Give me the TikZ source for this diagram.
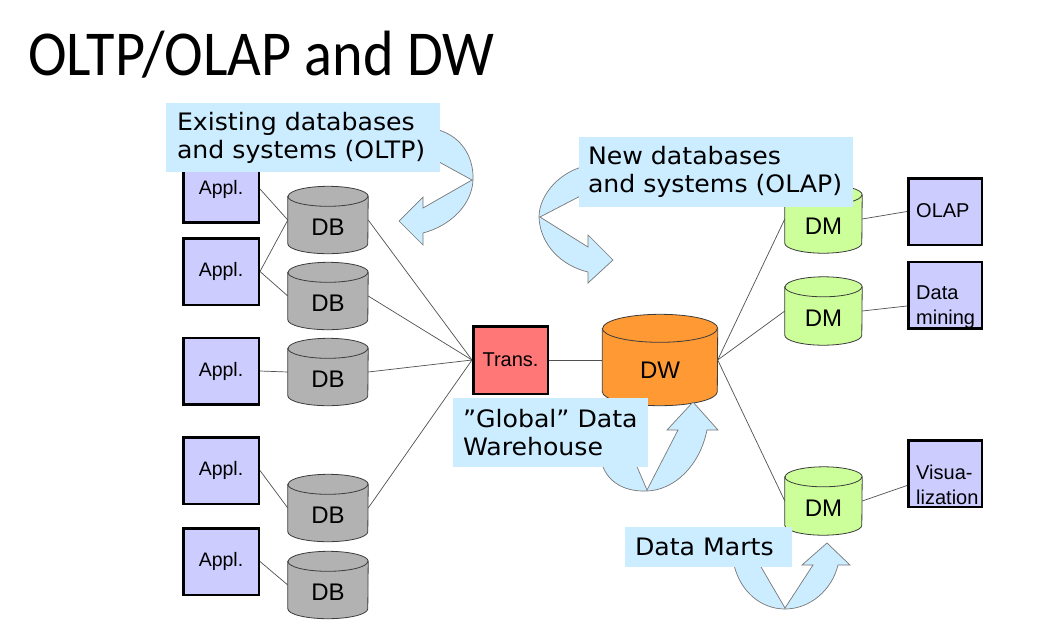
\documentclass[tikz,border=0pt]{standalone}
\usepackage{fontspec}
\setmainfont{Liberation Sans}
\newfontfamily\titlefont[FakeStretch=0.91]{Carlito}
\newfontfamily\callfont[FakeStretch=1.05]{DejaVu Sans}
\usetikzlibrary{calc}
\definecolor{applfill}{RGB}{204,204,255}
\definecolor{dbfill}{RGB}{178,178,178}
\definecolor{dmfill}{RGB}{204,255,153}
\definecolor{dwfill}{RGB}{255,153,51}
\definecolor{transfill}{RGB}{255,119,119}
\definecolor{callfill}{RGB}{204,236,255}
\definecolor{arrowline}{RGB}{120,120,120}
\definecolor{cylline}{RGB}{60,60,60}
\definecolor{connline}{RGB}{80,80,80}
\newcommand\mycyl[8]{%
  \node[minimum width=#4pt, minimum height=#5pt, inner sep=0pt] (#1) at (#2,#3) {};
  \path[fill=#7, draw=cylline, line width=0.8pt]
    ([yshift=-#6pt]#1.north west) -- ([yshift=#6pt]#1.south west)
    arc[start angle=180, end angle=360, x radius=#4pt/2, y radius=#6pt]
    -- ([yshift=-#6pt]#1.north east)
    arc[start angle=0, end angle=180, x radius=#4pt/2, y radius=#6pt] -- cycle;
  \draw[cylline, line width=0.8pt] ([yshift=-#6pt]#1.north west)
    arc[start angle=180, end angle=360, x radius=#4pt/2, y radius=#6pt];
  \node[cyltext] (#1-t) at ([yshift=-0.75*#6pt]#1.center) {#8};
}
\tikzset{
  applbox/.style={draw=black, line width=2.5pt, fill=applfill, minimum width=75.5pt,
    minimum height=66.5pt, inner sep=0pt, font=\fontsize{19.5}{22}\selectfont},
  cyltext/.style={inner sep=0pt, font=\fontsize{24}{26}\selectfont},
  conn/.style={draw=connline, line width=0.7pt},
  callout/.style={fill=callfill, draw=none, align=left, inner ysep=0pt,
    font=\callfont\fontsize{24}{28}\selectfont},
  bigarrow/.style={fill=callfill, draw=arrowline, line width=0.7pt, line join=miter},
  boxtext/.style={inner sep=0pt, align=left, anchor=west, font=\fontsize{20}{25}\selectfont}
}
\begin{document}
\begin{tikzpicture}[x=1pt,y=-1pt]
\useasboundingbox[fill=white] (0,0) rectangle (1055,630);
% title
\node[anchor=base west, inner sep=0pt, font=\titlefont\fontsize{64}{64}\selectfont] (title) at (28,75) {OLTP/OLAP and DW};
% application boxes
\node[applbox] (a1) at (221,189) {Appl.};
\node[applbox] (a2) at (221,271.5) {Appl.};
\node[applbox] (a3) at (221,371) {Appl.};
\node[applbox] (a4) at (221,470.5) {Appl.};
\node[applbox] (a5) at (221,561.5) {Appl.};
% databases
\mycyl{db1}{328}{220}{80}{67}{10}{dbfill}{DB}
\mycyl{db2}{328}{296}{80}{67}{10}{dbfill}{DB}
\mycyl{db3}{328}{372}{80}{67}{10}{dbfill}{DB}
\mycyl{db4}{328}{508}{80}{67}{10}{dbfill}{DB}
\mycyl{db5}{328}{585}{80}{67}{10}{dbfill}{DB}
% trans
\node[draw=black, line width=2.5pt, fill=transfill, minimum width=74.5pt, minimum height=67.5pt,
  inner sep=0pt, font=\fontsize{20}{22}\selectfont] (trans) at (510.5,360) {Trans.};
% DW
\mycyl{dw}{660}{360}{115}{91}{14}{dwfill}{DW}
% data marts
\mycyl{dm1}{823.5}{219}{77}{68}{10}{dmfill}{DM}
\mycyl{dm2}{823.5}{311}{77}{68}{10}{dmfill}{DM}
\mycyl{dm3}{823.5}{501}{77}{68}{10}{dmfill}{DM}
% right boxes
\node[applbox, minimum width=73.5pt] (olap) at (945,211.5) {};
\node[applbox, minimum width=73.5pt] (dmine) at (945,295) {};
\node[applbox, minimum width=73.5pt] (vis) at (945,473.5) {};
\node[boxtext] (olap-t) at (916,211) {OLAP};
\node[boxtext] (dmine-t) at (916,307) {Data\\mining};
\node[boxtext] (vis-t) at (916,485) {Visua-\\lization};
% connectors
\draw[conn] (a1.east) -- (db1.west);
\draw[conn] (a2.east) -- (db1.west);
\draw[conn] (a2.east) -- (db2.west);
\draw[conn] (a3.east) -- (db3.west);
\draw[conn] (a4.east) -- (db4.west);
\draw[conn] (a5.east) -- (db5.west);
\draw[conn] (db1.east) -- (trans.west);
\draw[conn] (db2.east) -- (trans.west);
\draw[conn] (db3.east) -- (trans.west);
\draw[conn] (db4.east) -- (trans.west);
\draw[conn] (trans.east) -- (dw.west);
\draw[conn] (dw.east) -- (dm1.west);
\draw[conn] (dw.east) -- (dm2.west);
\draw[conn] (dw.east) -- (dm3.west);
\draw[conn] (dm1.east) -- (olap.west);
\draw[conn] (dm2.east) -- ([yshift=-11pt]dmine.west);
\draw[conn] (dm3.east) -- ([yshift=-12pt]vis.west);
% curved block arrows
\path[bigarrow] (430,128) .. controls (462,133) and (474,158) .. (473,180)
  .. controls (472,205) and (450,226) .. (423,233) -- (423,245) -- (399,221) -- (423,197)
  -- (423,208) -- (472,180) -- (430,157) -- cycle;
\path[bigarrow] (590,165) .. controls (560,170) and (539,195) .. (539,217)
  .. controls (540,245) and (562,266) .. (588,272) -- (588,283) -- (613,260) -- (588,235)
  -- (588,247) -- (540,217) -- (590,191) -- cycle;
\path[bigarrow] (600,455) .. controls (603,480) and (622,492) .. (647,491)
  .. controls (675,490) and (700,465) .. (707,430) -- (718,430) -- (693,402) -- (667,430)
  -- (678,430) -- (647,490) -- (632,455) -- cycle;
\path[bigarrow] (733,560) .. controls (738,590) and (760,609) .. (785,609)
  .. controls (810,609) and (832,590) .. (838,565) -- (850,565) -- (827,543) -- (802,565)
  -- (813,565) -- (785,608) -- (757,560) -- cycle;
% callouts
\node[callout, minimum width=274pt, minimum height=69pt, inner xsep=11pt, text width=252pt] (c1) at (303,137.5)
  {Existing databases\\and systems (OLTP)};
\node[callout, minimum width=274pt, minimum height=70pt, inner xsep=9pt, text width=256pt] (c2) at (716,172)
  {New databases\\and systems (OLAP)};
\node[callout, minimum width=195pt, minimum height=69pt, inner xsep=10pt, text width=175pt] (c3) at (550.5,432.5)
  {”Global” Data\\Warehouse};
\node[callout, minimum width=167pt, minimum height=40pt, inner xsep=10pt, text width=147pt] (c4) at (708.5,547)
  {Data Marts};
\end{tikzpicture}
\end{document}
